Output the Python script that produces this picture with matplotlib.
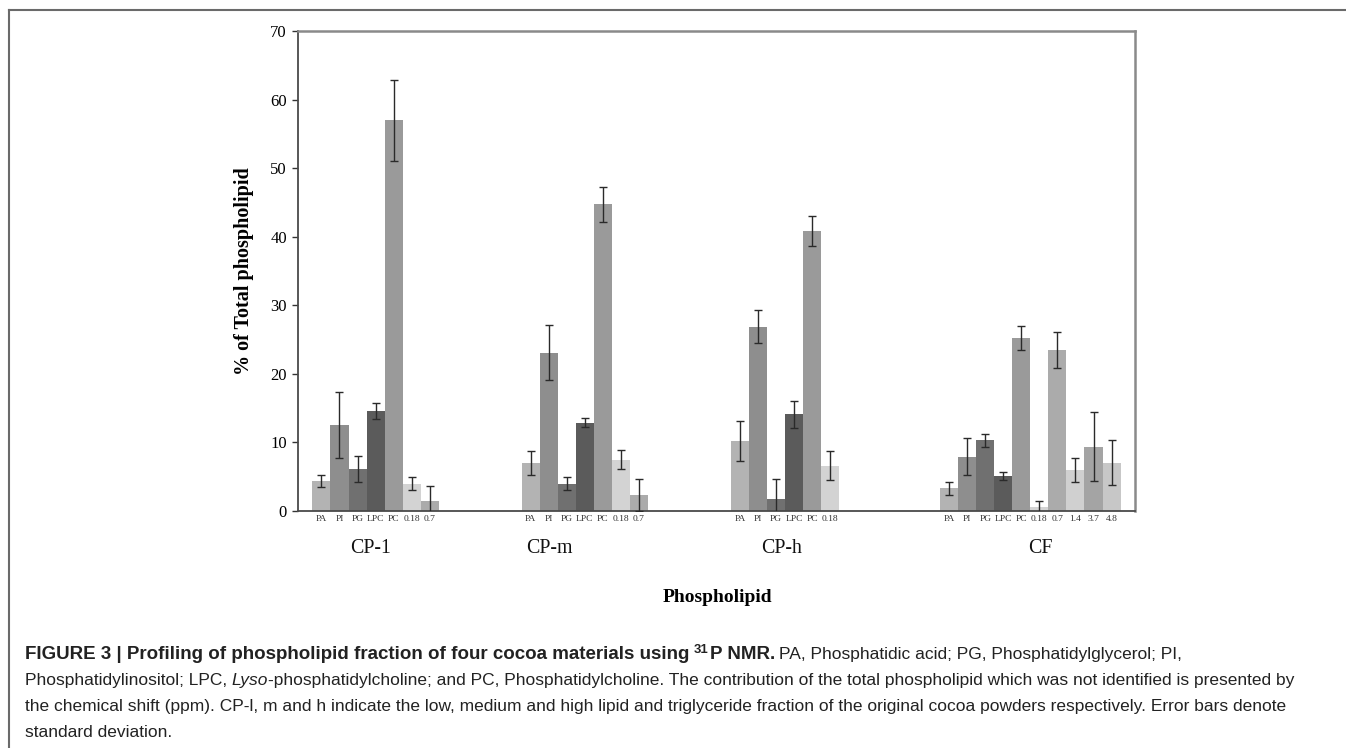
import numpy as np
import matplotlib
matplotlib.use("Agg")
import matplotlib.pyplot as plt
from matplotlib.lines import Line2D

nan = np.nan

# ---------------- data ----------------
groups = ["CP-1", "CP-m", "CP-h", "CF"]
series = ["PA", "PI", "PG", "LPC", "PC", "0.18", "0.7", "1.4", "3.7", "4.8"]

pa_vals = [4.4, 7.0, 10.2, 3.3]
pi_vals = [12.6, 23.1, 26.9, 7.9]
pg_vals = [6.1, 4.0, 1.7, 10.3]
lpc_vals = [14.6, 12.9, 14.1, 5.1]
pc_vals = [57.0, 44.7, 40.8, 25.3]
s018_vals = [4.0, 7.5, 6.6, 0.6]
s07_vals = [1.4, 2.3, nan, 23.5]
s14_vals = [nan, nan, nan, 6.0]
s37_vals = [nan, nan, nan, 9.4]
s48_vals = [nan, nan, nan, 7.05]

pa_err = [0.85, 1.8, 2.9, 1.0]
pi_err = [4.8, 4.0, 2.4, 2.7]
pg_err = [1.9, 0.9, 2.9, 1.0]
lpc_err = [1.2, 0.7, 2.0, 0.6]
pc_err = [5.9, 2.6, 2.15, 1.75]
s018_err = [1.0, 1.4, 2.1, 0.9]
s07_err = [2.2, 2.3, nan, 2.6]
s14_err = [nan, nan, nan, 1.8]
s37_err = [nan, nan, nan, 5.05]
s48_err = [nan, nan, nan, 3.3]

values = [pa_vals, pi_vals, pg_vals, lpc_vals, pc_vals,
          s018_vals, s07_vals, s14_vals, s37_vals, s48_vals]
errors = [pa_err, pi_err, pg_err, lpc_err, pc_err,
          s018_err, s07_err, s14_err, s37_err, s48_err]

# sub-labels shown under each group
group_sublabels = [
    ["PA", "PI", "PG", "LPC", "PC", "0.18", "0.7"],
    ["PA", "PI", "PG", "LPC", "PC", "0.18", "0.7"],
    ["PA", "PI", "PG", "LPC", "PC", "0.18"],
    ["PA", "PI", "PG", "LPC", "PC", "0.18", "0.7", "1.4", "3.7", "4.8"],
]

yticks = [0, 10, 20, 30, 40, 50, 60, 70]

# ---------------- style ----------------
colors = ["#b3b3b3", "#8e8e8e", "#707070", "#5b5b5b", "#9a9a9a",
          "#d3d3d3", "#ababab", "#d0d0d0", "#a4a4a4", "#c7c7c7"]
group_label_x = [0.345, 1.20, 2.31, 3.55]   # label centres (category units)

W, H = 1346, 748
fig = plt.figure(figsize=(W / 100, H / 100), dpi=100)
fig.patch.set_facecolor("white")

# outer frame lines
fig.add_artist(Line2D([9 / W, 9 / W], [0, 1 - 10 / H], transform=fig.transFigure,
                      color="#6a6a6a", lw=1.5))
fig.add_artist(Line2D([9 / W, 1], [1 - 10 / H, 1 - 10 / H], transform=fig.transFigure,
                      color="#6a6a6a", lw=1.5))

ax = fig.add_axes([298 / W, 1 - 511 / H, (1135 - 298) / W, (511 - 31) / H])

nser = len(series)
gap = 1.6
bw = 1.0 / (nser + gap)
x0 = np.arange(len(groups))

for j in range(nser):
    xs = x0 + bw * (gap / 2 + j + 0.5)
    v = np.array(values[j], dtype=float)
    e = np.array(errors[j], dtype=float)
    m = ~np.isnan(v)
    ax.bar(xs[m], v[m], width=bw, color=colors[j], edgecolor="none", zorder=2)
    ax.errorbar(xs[m], v[m], yerr=e[m], fmt="none", ecolor="#2a2a2a",
                elinewidth=1.0, capsize=3, capthick=1.0, zorder=3)

ax.set_xlim(0, len(groups))
ax.set_ylim(0, 70)
ax.set_yticks(yticks)
ax.set_yticklabels([str(t) for t in yticks], family="Liberation Serif", fontsize=12)
ax.set_xticks([])
ax.tick_params(axis="y", direction="out", length=4, width=1, color="#333333", pad=4)

for side in ["left", "bottom"]:
    ax.spines[side].set_color("#4a4a4a")
    ax.spines[side].set_linewidth(1.3)
for side in ["top", "right"]:
    ax.spines[side].set_color("#8a8a8a")
    ax.spines[side].set_linewidth(1.8)

# sub labels under each bar
for i, labs in enumerate(group_sublabels):
    for lab in labs:
        j = series.index(lab)
        xc = i + bw * (gap / 2 + j + 0.5)
        ax.text(xc, -1.2, lab, ha="center", va="center", family="Liberation Serif",
                fontsize=6.8, color="#333333", clip_on=False)

for i, g in enumerate(groups):
    ax.text(group_label_x[i], -5.4, g, ha="center", va="center",
            family="Liberation Serif", fontsize=14.3, color="#111111", clip_on=False)

ax.set_ylabel("% of Total phospholipid", family="Liberation Serif",
              fontweight="bold", fontsize=14.5, labelpad=12)
fig.text(717 / W, 1 - 597 / H, "Phospholipid", ha="center", va="center",
         family="Liberation Serif", fontweight="bold", fontsize=14)

# ---------------- caption ----------------
renderer = fig.canvas.get_renderer()
cap_font = "Liberation Sans"
reg_size = 12.5
bold_size = 13.5
cap_color = "#222222"


def draw_runs(runs, x_px, y_px):
    x = x_px
    for txt, kw in runs:
        size = bold_size if kw.get("fontweight") == "bold" else reg_size
        props = dict(family=cap_font, fontsize=size, color=cap_color,
                     ha="left", va="baseline")
        dy = 0
        if kw.get("sup"):
            props["fontsize"] = size * 0.7
            dy = 6
        for k in ("fontweight", "fontstyle"):
            if k in kw:
                props[k] = kw[k]
        t = fig.text(x / W, 1 - (y_px - dy) / H, txt, **props)
        bb = t.get_window_extent(renderer)
        x += bb.width + kw.get("after", 0)


sp = 4.5
B = {"fontweight": "bold"}
line1 = [("FIGURE 3 | Profiling of phospholipid fraction of four cocoa materials using", dict(B, after=sp)),
         ("31", dict(B, sup=True, after=1)),
         ("P NMR.", dict(B, after=sp)),
         ("PA, Phosphatidic acid; PG, Phosphatidylglycerol; PI,", {})]
line2 = [("Phosphatidylinositol; LPC,", {"after": sp}),
         ("Lyso", {"fontstyle": "italic"}),
         ("-phosphatidylcholine; and PC, Phosphatidylcholine. The contribution of the total phospholipid which was not identified is presented by", {})]
line3 = [("the chemical shift (ppm). CP-l, m and h indicate the low, medium and high lipid and triglyceride fraction of the original cocoa powders respectively. Error bars denote", {})]
line4 = [("standard deviation.", {})]

draw_runs(line1, 25, 659)
draw_runs(line2, 25, 685)
draw_runs(line3, 25, 711)
draw_runs(line4, 25, 737)

fig.savefig("out.png", dpi=100, facecolor="white")
